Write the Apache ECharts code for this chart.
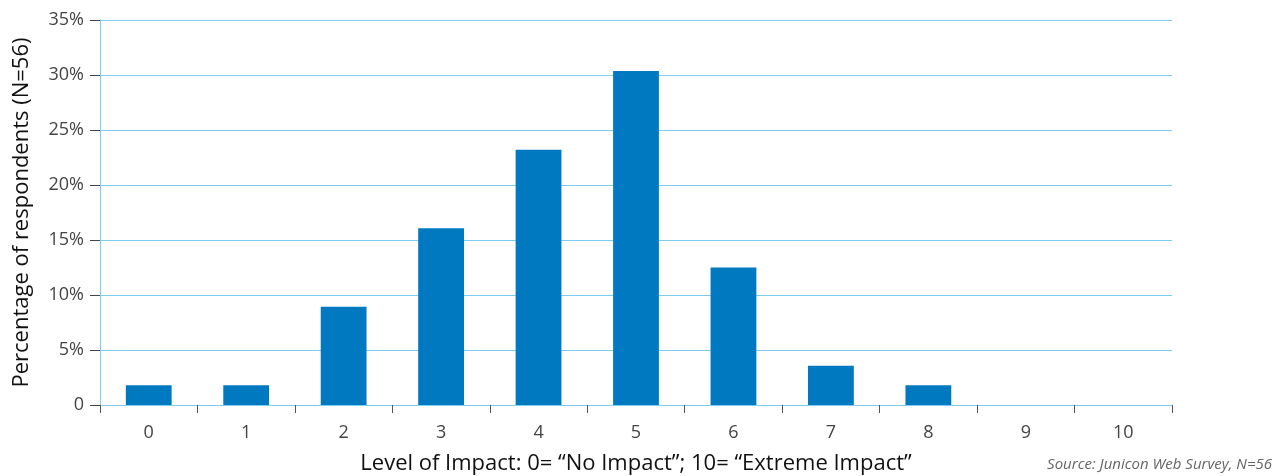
<!DOCTYPE html>
<html><head><meta charset="utf-8">
<script src="https://cdn.jsdelivr.net/npm/echarts@6/dist/echarts.min.js"></script>
<style>html,body{margin:0;padding:0;background:#fff}#c{width:1279px;height:476px}</style>
</head><body><div id="c"></div>
<script>
const categories = ['0','1','2','3','4','5','6','7','8','9','10'];
const percentValues = [1.79, 1.79, 8.93, 16.07, 23.21, 30.36, 12.5, 3.57, 1.79, 0, 0];
const yTicks = [0, 5, 10, 15, 20, 25, 30, 35];
const xTitle = 'Level of Impact: 0= \u201CNo Impact\u201D; 10= \u201CExtreme Impact\u201D';
const yTitle = 'Percentage of respondents (N=56)';
const sourceText = 'Source: Junicon Web Survey, N=56';

const chart = echarts.init(document.getElementById('c'));
chart.setOption({
  animation: false,
  textStyle: { fontFamily: 'Open Sans' },
  grid: { left: 100, right: 107, top: 20, bottom: 71, containLabel: false, outerBoundsMode: 'none' },
  graphic: [
    { type: 'text', right: 7, top: 457, style: { text: sourceText, font: 'italic 15px "Open Sans"', fill: '#666' } }
  ],
  xAxis: {
    type: 'category', data: categories,
    name: xTitle, nameLocation: 'middle', nameGap: 48,
    nameTextStyle: { fontSize: 22, color: '#111', fontFamily: 'Open Sans' },
    axisLine: { lineStyle: { color: '#7fcdee', width: 1 } },
    axisTick: { show: true, length: 8, alignWithLabel: false, lineStyle: { color: '#555' } },
    axisLabel: { fontSize: 18, color: '#444', margin: 19 }
  },
  yAxis: {
    type: 'value', min: 0, max: 35, interval: 5,
    name: yTitle, nameLocation: 'middle', nameGap: 67, nameRotate: 90,
    nameTextStyle: { fontSize: 22, color: '#111', fontFamily: 'Open Sans' },
    axisLine: { show: true, lineStyle: { color: '#7fcdee', width: 1 } },
    axisTick: { show: true, length: 10, lineStyle: { color: '#444' } },
    axisLabel: { fontSize: 18, color: '#444', margin: 16,
      formatter: v => yTicks.includes(v) ? (v === 0 ? '0' : v + '%') : '' },
    splitLine: { lineStyle: { color: '#7fcdee', width: 1 } }
  },
  series: [{
    type: 'bar', data: percentValues, barWidth: '47%',
    itemStyle: { color: '#0079c1' }
  }]
});
</script></body></html>
